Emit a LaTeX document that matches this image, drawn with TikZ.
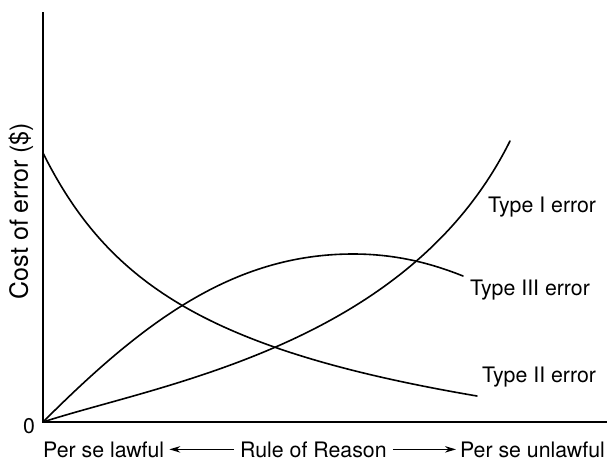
\documentclass[tikz,border=0pt]{standalone}
\usepackage{fontspec}
\setmainfont{TeX Gyre Heros}
\usetikzlibrary{arrows.meta}
\begin{document}
\begin{tikzpicture}[x=1pt,y=-1pt,
  curve/.style={line width=1.6pt, line join=round, line cap=round},
  axis/.style={line width=1.6pt},
  lbl/.style={font=\fontsize{21.3}{25}\selectfont, inner sep=0pt},
  arr/.style={line width=1.2pt,-{Stealth[length=11pt,width=6.5pt]}}]
\useasboundingbox (0,0) rectangle (607,461);
% axes
\coordinate (O) at (43,422);
\coordinate (ytop) at (43,12);
\coordinate (xend) at (607,422);
\draw[axis] (ytop) -- (O) -- (xend);
% Type I error
\coordinate (t1end) at (510,141);
\draw[curve] (O) .. controls (160,384) and (408,346) .. (t1end);
% Type II error
\coordinate (t2start) at (43,153);
\coordinate (t2end) at (477,396);
\draw[curve] (t2start) .. controls (108,283) and (207,350) .. (t2end);
% Type III error
\coordinate (t3peak) at (353,254);
\coordinate (t3end) at (463,276);
\draw[curve] (O) .. controls (143,322) and (233,254) .. (t3peak)
                 .. controls (393,254) and (428,262) .. (t3end);
% labels
\node[lbl, anchor=base west] (t1) at (488,212) {Type I error};
\node[lbl, anchor=base west] (t3) at (470,295) {Type III error};
\node[lbl, anchor=base west] (t2) at (482,382) {Type II error};
\node[lbl, anchor=base] (zero) at (29,433) {0};
\node[lbl, font=\fontsize{25}{30}\selectfont, rotate=90] (ylab) at (21,211) {Cost of error (\$)};
\node[lbl, anchor=base west] (lawful) at (43,457) {Per se lawful};
\node[lbl, anchor=base west] (rule) at (240,457) {Rule of Reason};
\node[lbl, anchor=base east] (unlawful) at (605,457) {Per se unlawful};
\draw[arr, shorten <=6pt, shorten >=5pt] (rule.west) -- (lawful.east);
\draw[arr, shorten <=6pt, shorten >=4pt] (rule.east) -- (unlawful.west);
\end{tikzpicture}
\end{document}
